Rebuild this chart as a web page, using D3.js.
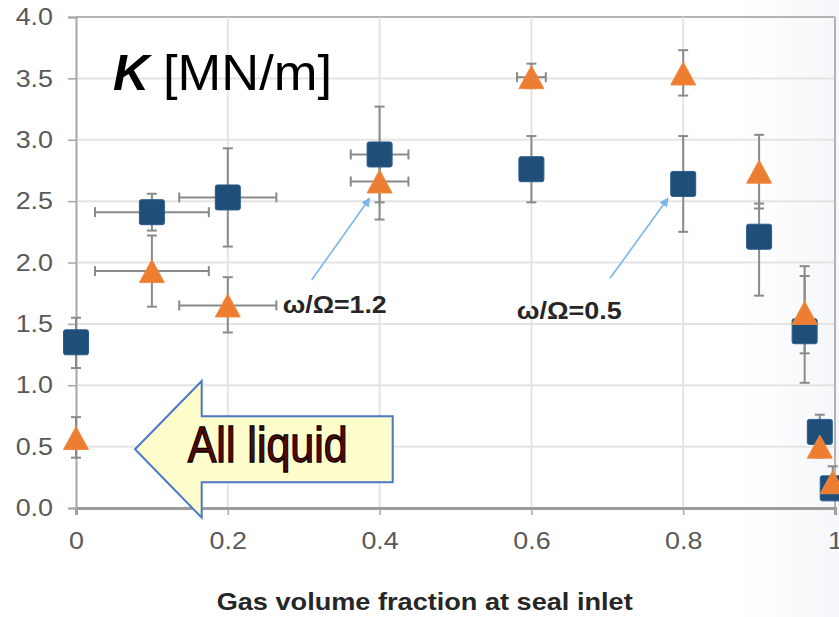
<!DOCTYPE html>
<html>
<head>
<meta charset="utf-8">
<script src="https://cdn.jsdelivr.net/npm/d3@7/dist/d3.min.js"></script>
<style>
  html, body { margin: 0; padding: 0; background: #ffffff; }
  svg { display: block; }
</style>
</head>
<body>
<svg id="chart" width="839" height="617"></svg>
<script>
// Gas volume fraction at seal inlet (x positions of the test points)
const gvf = [0, 0.1, 0.2, 0.4, 0.6, 0.8, 0.9, 0.96, 0.98, 0.997];

// Stiffness K [MN/m] for excitation ratio ω/Ω = 0.5 (squares)
const kLow      = [1.35, 2.41, 2.53, 2.88, 2.76, 2.64, 2.21, 1.44, 0.62, 0.16];
const kLowMinus = [0.21, 0.15, 0.40, 0.39, 0.27, 0.39, 0.48, 0.42, 0.10, 0.05];
const kLowPlus  = [0.20, 0.15, 0.40, 0.39, 0.27, 0.39, 0.27, 0.45, 0.14, 0.05];
const gvfLowErr = [0, 0.075, 0.064, 0.038, 0.010, 0, 0, 0, 0, 0];

// Stiffness K [MN/m] for excitation ratio ω/Ω = 1.2 (triangles)
const kHigh      = [0.57, 1.93, 1.65, 2.66, 3.51, 3.54, 2.74, 1.59, 0.50, 0.21];
const kHighMinus = [0.16, 0.29, 0.22, 0.31, 0.09, 0.18, 0.30, 0.33, 0.09, 0.05];
const kHighPlus  = [0.17, 0.29, 0.23, 0.31, 0.11, 0.19, 0.30, 0.38, 0.10, 0.13];
const gvfHighErr = [0, 0.075, 0.064, 0.038, 0.019, 0, 0, 0, 0, 0];

// Axis ticks
const xTicks = [0, 0.2, 0.4, 0.6, 0.8, 1];
const yTicks = [0, 0.5, 1, 1.5, 2, 2.5, 3, 3.5, 4];

const svg = d3.select("#chart");
const W = 839, H = 617;
const margin = { left: 76, right: 4, top: 17, bottom: 109 };
const x = d3.scaleLinear().domain([0, 1]).range([margin.left, W - margin.right]);
const y = d3.scaleLinear().domain([0, 4]).range([H - margin.bottom, margin.top]);
const stretch = 1.12;           // horizontal stretch of the label lettering
const font = "'Liberation Sans', Arial, sans-serif";

// very faint tint on the right side of the canvas
const defs = svg.append("defs");
const grad = defs.append("linearGradient").attr("id", "tint").attr("x1", 0).attr("x2", 1).attr("y1", 0).attr("y2", 0);
grad.append("stop").attr("offset", "0.88").attr("stop-color", "#ffffff");
grad.append("stop").attr("offset", "1").attr("stop-color", "#f6f7fa");
svg.append("rect").attr("width", W).attr("height", H).attr("fill", "url(#tint)");

// arrowhead for the annotation pointers
defs.append("marker").attr("id", "head").attr("viewBox", "0 0 10 10")
  .attr("refX", 9).attr("refY", 5).attr("markerWidth", 9).attr("markerHeight", 9)
  .attr("markerUnits", "userSpaceOnUse").attr("orient", "auto")
  .append("path").attr("d", "M0,0 L10,5 L0,10 Z").attr("fill", "#7db5e8");

// grid
const grid = svg.append("g");
grid.selectAll("line.h").data(yTicks.filter(d => d > 0)).join("line")
  .attr("x1", x(0)).attr("x2", x(1)).attr("y1", d => y(d)).attr("y2", d => y(d))
  .attr("stroke", d => d === 4 ? "#b3b3b3" : "#e4e4e4").attr("stroke-width", 2);
grid.selectAll("line.v").data(xTicks.filter(d => d > 0)).join("line")
  .attr("x1", d => x(d)).attr("x2", d => x(d)).attr("y1", y(0)).attr("y2", y(4))
  .attr("stroke", d => d === 1 ? "#b3b3b3" : "#e4e4e4").attr("stroke-width", 2);

// axes
const xAxis = svg.append("g").attr("transform", `translate(0,${y(0)})`)
  .call(d3.axisBottom(x).tickValues(xTicks).tickFormat(d3.format("")).tickSize(7).tickPadding(17));
const yAxis = svg.append("g").attr("transform", `translate(${x(0)},0)`)
  .call(d3.axisLeft(y).tickValues(yTicks).tickFormat(d3.format(".1f")).tickSize(8).tickPadding(15));
[xAxis, yAxis].forEach(g => {
  g.selectAll("text").attr("font-family", font).attr("font-size", 24).attr("fill", "#595959");
  g.selectAll(".tick line").attr("stroke", "#a6a6a6").attr("stroke-width", 1.5);
});
xAxis.select(".domain").attr("stroke", "#9c9c9c").attr("stroke-width", 3);
yAxis.select(".domain").attr("stroke", "#a6a6a6").attr("stroke-width", 2);
xAxis.selectAll("text").each(function () {
  d3.select(this).attr("transform", `scale(${stretch},1)`).attr("x", 0);
});
yAxis.selectAll("text").each(function () {
  d3.select(this).attr("transform", `scale(${stretch},1)`).attr("x", -23 / stretch);
});

// error bars
function errorBars(k, minus, plus, xerr) {
  const g = svg.append("g").attr("stroke", "#8a8a8a").attr("stroke-width", 2).attr("fill", "none");
  const cap = 5;
  gvf.forEach((gx, i) => {
    const cx = x(gx), cy = y(k[i]);
    const y1 = y(k[i] + plus[i]), y2 = y(k[i] - minus[i]);
    g.append("line").attr("x1", cx).attr("x2", cx).attr("y1", y1).attr("y2", y2);
    g.append("line").attr("x1", cx - cap).attr("x2", cx + cap).attr("y1", y1).attr("y2", y1);
    g.append("line").attr("x1", cx - cap).attr("x2", cx + cap).attr("y1", y2).attr("y2", y2);
    if (xerr[i] > 0) {
      const x1 = x(gx - xerr[i]), x2 = x(gx + xerr[i]);
      g.append("line").attr("x1", x1).attr("x2", x2).attr("y1", cy).attr("y2", cy);
      g.append("line").attr("x1", x1).attr("x2", x1).attr("y1", cy - cap).attr("y2", cy + cap);
      g.append("line").attr("x1", x2).attr("x2", x2).attr("y1", cy - cap).attr("y2", cy + cap);
    }
  });
}
errorBars(kLow, kLowMinus, kLowPlus, gvfLowErr);
errorBars(kHigh, kHighMinus, kHighPlus, gvfHighErr);

// ω/Ω = 0.5 markers (squares)
const sq = 25;
svg.append("g").selectAll("rect").data(gvf.map((g, i) => [g, kLow[i]])).join("rect")
  .attr("x", d => x(d[0]) - sq / 2).attr("y", d => y(d[1]) - sq / 2)
  .attr("width", sq).attr("height", sq).attr("rx", 2)
  .attr("fill", "#1f4e79").attr("stroke", "#2a5c8c").attr("stroke-width", 1);

// ω/Ω = 1.2 markers (triangles)
const tw = 25, th = 23;
svg.append("g").selectAll("path").data(gvf.map((g, i) => [g, kHigh[i]])).join("path")
  .attr("d", d => {
    const cx = x(d[0]), cy = y(d[1]);
    return `M${cx},${cy - th / 2} L${cx + tw / 2},${cy + th / 2} L${cx - tw / 2},${cy + th / 2} Z`;
  })
  .attr("fill", "#ed7d31").attr("stroke", "#f08a42").attr("stroke-width", 1).attr("stroke-linejoin", "round");

// series annotations with pointers
const notes = [
  { text: "ω/Ω=1.2", tx: 282.7, ty: 313, w: 104, from: [0.3105, 1.857], to: [0.387, 2.523] },
  { text: "ω/Ω=0.5", tx: 516.7, ty: 318.5, w: 105, from: [0.7036, 1.871], to: [0.780, 2.523] }
];
notes.forEach(n => {
  svg.append("line")
    .attr("x1", x(n.from[0])).attr("y1", y(n.from[1]))
    .attr("x2", x(n.to[0])).attr("y2", y(n.to[1]))
    .attr("stroke", "#7db5e8").attr("stroke-width", 1.6).attr("marker-end", "url(#head)");
  svg.append("text").attr("x", n.tx).attr("y", n.ty)
    .attr("font-family", font).attr("font-weight", "bold").attr("font-size", 23)
    .attr("fill", "#262626").attr("textLength", n.w).attr("lengthAdjust", "spacingAndGlyphs")
    .text(n.text);
});

// chart title (quantity and unit)
svg.append("text").attr("x", 113).attr("y", 90)
  .attr("font-family", font).attr("font-weight", "bold").attr("font-style", "italic")
  .attr("font-size", 50).attr("fill", "#000").text("K");
svg.append("text").attr("x", 163).attr("y", 90)
  .attr("font-family", font).attr("font-size", 50).attr("fill", "#000")
  .attr("textLength", 169).attr("lengthAdjust", "spacingAndGlyphs").text("[MN/m]");

// x axis title
svg.append("text").attr("x", 216.7).attr("y", 610)
  .attr("font-family", font).attr("font-weight", "bold").attr("font-size", 24)
  .attr("fill", "#262626").attr("textLength", 416).attr("lengthAdjust", "spacingAndGlyphs")
  .text("Gas volume fraction at seal inlet");

// "All liquid" callout: left-pointing block arrow
const ca = { tip: 135, neck: 201.7, right: 392.7, cy: 449.3, head: 68.3, shaft: 33 };
svg.append("path")
  .attr("d", `M${ca.tip},${ca.cy} L${ca.neck},${ca.cy - ca.head} L${ca.neck},${ca.cy - ca.shaft}
              L${ca.right},${ca.cy - ca.shaft} L${ca.right},${ca.cy + ca.shaft} L${ca.neck},${ca.cy + ca.shaft}
              L${ca.neck},${ca.cy + ca.head} Z`)
  .attr("fill", "#fffdcc").attr("stroke", "#4a78c8").attr("stroke-width", 2).attr("stroke-linejoin", "miter");
svg.append("text").attr("x", 187.7).attr("y", 462.3)
  .attr("font-family", font).attr("font-size", 50)
  .attr("fill", "#5c0505").attr("stroke", "#000").attr("stroke-width", 1.3)
  .attr("textLength", 160).attr("lengthAdjust", "spacingAndGlyphs")
  .text("All liquid");
</script>
</body>
</html>
